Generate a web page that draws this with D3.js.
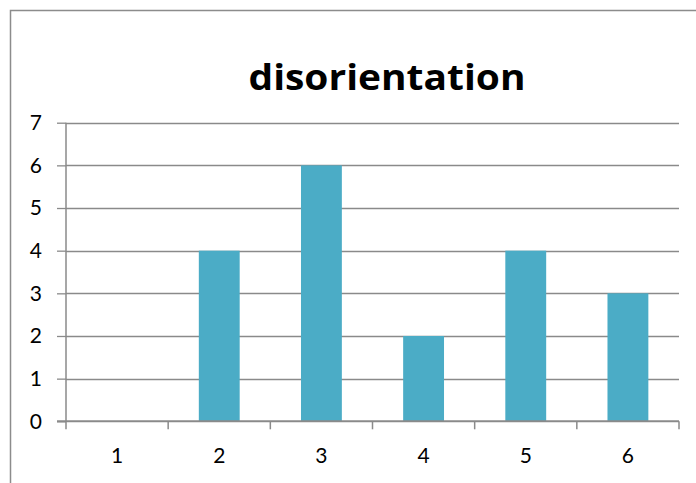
<!DOCTYPE html>
<html><head><meta charset="utf-8">
<script src="https://cdn.jsdelivr.net/npm/d3@7"></script>
<style>html,body{margin:0;padding:0;background:#fff}svg{display:block}text{font-variant-ligatures:none;font-feature-settings:"liga" 0}</style>
</head><body>
<script>
const categories = ["1","2","3","4","5","6"];
const values = [0,4,6,2,4,3];
const yTicks = [0,1,2,3,4,5,6,7];
const title = "disorientation";

(function(){
const W=696,H=483;
const svg=d3.select("body").append("svg").attr("width",W).attr("height",H);
svg.append("rect").attr("width",W).attr("height",H).attr("fill","#fff");
// outer frame
svg.append("path").attr("d","M10.5,"+(H+2)+"V10.5H"+(W+2)).attr("fill","none").attr("stroke","#8c8c8c").attr("stroke-width",1.5);

const pLeft=66,pRight=679,pTop=122.7,pBottom=421.3;
const x=d3.scaleBand().domain(categories).range([pLeft,pRight]).paddingInner(0.6).paddingOuter(0.3);
const y=d3.scaleLinear().domain([0,7]).range([pBottom,pTop]);
const font="Lato, 'Open Sans', sans-serif";

// gridlines
svg.append("g").selectAll("line").data(yTicks.filter(d=>d>0)).join("line")
 .attr("x1",pLeft).attr("x2",pRight).attr("y1",d=>Math.round(y(d))+0.5).attr("y2",d=>Math.round(y(d))+0.5)
 .attr("stroke","#8a8a8a").attr("stroke-width",1.3);

// bars
svg.append("g").selectAll("rect").data(values).join("rect")
 .attr("x",(d,i)=>x(categories[i])).attr("width",x.bandwidth())
 .attr("y",d=>y(d)).attr("height",d=>pBottom-y(d)).attr("fill","#4BACC6");

// y axis
const ya=svg.append("g").attr("transform",`translate(${pLeft},0)`)
 .call(d3.axisLeft(y).tickValues(yTicks).tickSize(9).tickPadding(15).tickFormat(d3.format("d")));
ya.select(".domain").attr("stroke","#8a8a8a").attr("stroke-width",1.5).attr("d",`M0,${pTop}V${pBottom}`);
ya.selectAll(".tick line").attr("stroke","#8a8a8a").attr("stroke-width",1.3);
ya.selectAll("text").attr("font-family",font).attr("font-size",21).attr("fill","#000");

// x axis
const bx=d3.scaleLinear().domain([0,6]).range([pLeft,pRight]);
const xa=svg.append("g");
xa.append("line").attr("x1",pLeft-9).attr("x2",pRight).attr("y1",pBottom).attr("y2",pBottom).attr("stroke","#8a8a8a").attr("stroke-width",2);
xa.selectAll(".tk").data(d3.range(7)).join("line").attr("class","tk")
 .attr("x1",d=>bx(d)).attr("x2",d=>bx(d)).attr("y1",pBottom).attr("y2",pBottom+8).attr("stroke","#8a8a8a").attr("stroke-width",1.5);
xa.selectAll("text.xl").data(categories).join("text").attr("class","xl")
 .attr("x",d=>x(d)+x.bandwidth()/2).attr("y",pBottom+42).attr("text-anchor","middle")
 .attr("font-family",font).attr("font-size",21).attr("fill","#000").text(d=>d);

// title
svg.append("text").attr("x",387).attr("y",90).attr("text-anchor","middle")
 .attr("font-family","'Open Sans', sans-serif").attr("font-weight","bold").attr("font-size",36)
 .attr("textLength",277).attr("lengthAdjust","spacingAndGlyphs").attr("fill","#000").text(title);
})();
</script>
</body></html>
